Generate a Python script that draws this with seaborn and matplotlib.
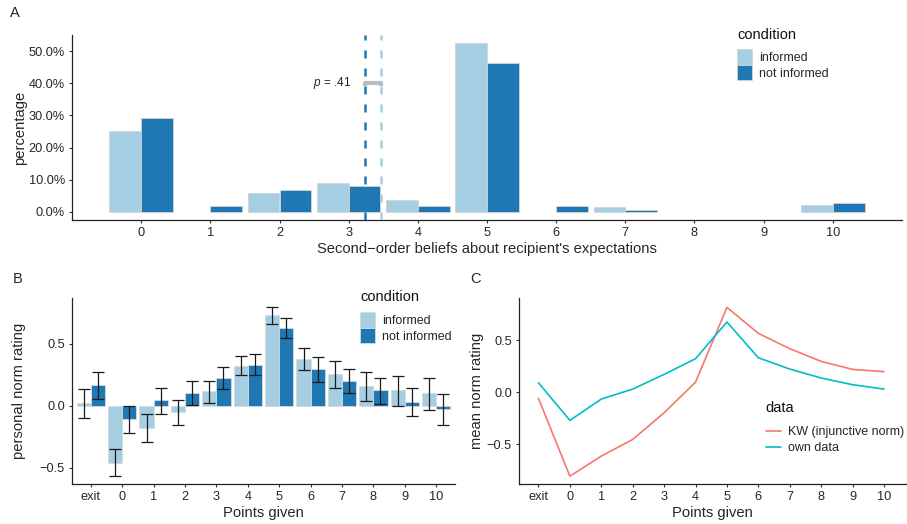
import numpy as np
import pandas as pd
import matplotlib
matplotlib.use("Agg")
import matplotlib.pyplot as plt
from matplotlib.ticker import PercentFormatter
import seaborn as sns

# ---------------- data ----------------
conditions = ["informed", "not informed"]
beliefs = list(range(11))
pct_informed = [25.3, 0, 5.9, 8.9, 3.7, 52.4, 0, 1.5, 0, 0, 2.1]
pct_not_informed = [29.2, 1.9, 6.8, 8.1, 1.9, 46.3, 1.9, 0.7, 0, 0, 2.8]
mean_belief_informed = 3.47
mean_belief_not_informed = 3.24
p_value_label = ".41"
p_bracket_height = 40.0

points_labels = ["exit", "0", "1", "2", "3", "4", "5", "6", "7", "8", "9", "10"]
norm_informed = [0.024, -0.457, -0.175, -0.051, 0.118, 0.323, 0.734, 0.376, 0.255, 0.159, 0.129, 0.102]
lo_informed = [-0.094, -0.562, -0.290, -0.153, 0.024, 0.247, 0.664, 0.290, 0.148, 0.043, 0.003, -0.032]
hi_informed = [0.140, -0.344, -0.067, 0.048, 0.204, 0.400, 0.796, 0.465, 0.363, 0.277, 0.245, 0.226]
norm_not_informed = [0.170, -0.108, 0.046, 0.105, 0.226, 0.333, 0.632, 0.298, 0.204, 0.126, 0.032, -0.027]
lo_not_informed = [0.054, -0.220, -0.065, 0.005, 0.134, 0.247, 0.551, 0.194, 0.102, 0.016, -0.081, -0.151]
hi_not_informed = [0.277, 0.003, 0.142, 0.204, 0.312, 0.417, 0.707, 0.398, 0.300, 0.228, 0.148, 0.097]

data_sources = ["KW (injunctive norm)", "own data"]
kw_norm = [-0.058, -0.805, -0.612, -0.452, -0.196, 0.099, 0.817, 0.567, 0.420, 0.298, 0.221, 0.199]
own_norm = [0.093, -0.269, -0.064, 0.032, 0.173, 0.324, 0.676, 0.333, 0.224, 0.138, 0.074, 0.032]

# ---------------- style ----------------
sns.set_theme(style="ticks")
plt.rcParams["font.family"] = ["Liberation Sans", "DejaVu Sans"]
plt.rcParams["mathtext.fontset"] = "custom"
plt.rcParams["mathtext.it"] = "Liberation Sans:italic"
plt.rcParams["mathtext.rm"] = "Liberation Sans"
plt.rcParams["axes.edgecolor"] = "#222222"
plt.rcParams["axes.linewidth"] = 0.9
plt.rcParams["xtick.color"] = "#333333"
plt.rcParams["ytick.color"] = "#333333"
plt.rcParams["xtick.labelcolor"] = "#262626"
plt.rcParams["ytick.labelcolor"] = "#262626"
plt.rcParams["xtick.major.size"] = 2.5
plt.rcParams["ytick.major.size"] = 2.5
plt.rcParams["xtick.major.width"] = 0.8
plt.rcParams["ytick.major.width"] = 0.8
plt.rcParams["xtick.major.pad"] = 2.5
plt.rcParams["ytick.major.pad"] = 2.5

blue_pal = {"informed": "#A6CEE3", "not informed": "#1F78B4"}
line_pal = {"KW (injunctive norm)": "#F8766D", "own data": "#00BFC4"}

W, H = 907, 524
fig = plt.figure(figsize=(W / 100, H / 100), dpi=100)

def frac_axes(l, t, r, b):
    return fig.add_axes([l / W, 1 - b / H, (r - l) / W, (b - t) / H])

axA = frac_axes(72, 35, 902, 220)
axB = frac_axes(72, 298, 455, 484)
axC = frac_axes(519, 298, 906, 484)

tick_fs = 9.2
lab_fs = 10.6
leg_fs = 9
legt_fs = 10.5


def patch_legend(ax, x_px, title_y_px, sw_top_px):
    h, l = ax.get_legend_handles_labels()
    fig.text(x_px / W, 1 - title_y_px / H, ax.get_legend().get_title().get_text()
             if ax.get_legend() is not None else "", fontsize=legt_fs,
             ha="left", va="center", color="#111111")
    ax.legend(h, l, loc="upper left", bbox_to_anchor=(x_px / W, 1 - sw_top_px / H),
              bbox_transform=fig.transFigure, frameon=False, borderpad=0,
              borderaxespad=0, handlelength=1.2, handleheight=1.55,
              handletextpad=0.55, labelspacing=0.0, fontsize=leg_fs)


# ---------------- panel A ----------------
dfA = pd.DataFrame({
    "belief": beliefs * 2,
    "condition": ["informed"] * len(beliefs) + ["not informed"] * len(beliefs),
    "pct": pct_informed + pct_not_informed,
})
dfA = dfA[dfA["pct"] > 0]
sns.barplot(data=dfA, x="belief", y="pct", hue="condition", order=beliefs,
            hue_order=conditions, palette=blue_pal, saturation=1, width=0.92,
            errorbar=None, edgecolor="#d4d4d4", linewidth=0.6, ax=axA)
axA.set_xlim(-1.0, 11.0)
axA.set_ylim(-2.5, 55)
axA.set_yticks([0, 10, 20, 30, 40, 50])
axA.yaxis.set_major_formatter(PercentFormatter(xmax=100, decimals=1))
axA.set_xlabel("Second\u2212order beliefs about recipient's expectations", fontsize=lab_fs, labelpad=2)
axA.set_ylabel("percentage", fontsize=lab_fs)
axA.yaxis.set_label_coords((27 - 72) / 830, 0.5)
axA.tick_params(labelsize=tick_fs)
dash = (0, (3.2, 4.0))
axA.axvline(mean_belief_not_informed, color=blue_pal["not informed"], lw=1.8, ls=dash, zorder=5)
axA.axvline(mean_belief_informed, color=blue_pal["informed"], lw=1.8, ls=dash, zorder=5)
axA.plot([mean_belief_not_informed, mean_belief_not_informed, mean_belief_informed, mean_belief_informed],
         [p_bracket_height - 1.0, p_bracket_height, p_bracket_height, p_bracket_height - 1.0],
         color="#BBBBBB", lw=3, solid_capstyle="butt", zorder=6)
axA.text(mean_belief_not_informed - 0.2, p_bracket_height, r"$p$ = " + p_value_label,
         ha="right", va="center", fontsize=8.5, color="#222222")
patch_legend(axA, 737, 35, 49)

# ---------------- panel B ----------------
dfB = pd.DataFrame({
    "points": points_labels * 2,
    "condition": ["informed"] * len(points_labels) + ["not informed"] * len(points_labels),
    "rating": norm_informed + norm_not_informed,
    "lo": lo_informed + lo_not_informed,
    "hi": hi_informed + hi_not_informed,
})
sns.barplot(data=dfB, x="points", y="rating", hue="condition", order=points_labels,
            hue_order=conditions, palette=blue_pal, saturation=1, width=0.9,
            errorbar=None, edgecolor="#dadada", linewidth=0.6, ax=axB)
for cont, cond in zip(axB.containers, conditions):
    sub = dfB[dfB["condition"] == cond].set_index("points").loc[points_labels]
    xs = [p.get_x() + p.get_width() / 2 for p in cont.patches]
    ys = sub["rating"].values
    yerr = np.vstack([ys - sub["lo"].values, sub["hi"].values - ys])
    axB.errorbar(xs, ys, yerr=yerr, fmt="none", ecolor="#1a1a1a", elinewidth=0.9,
                 capsize=4.3, capthick=0.9, zorder=5)
axB.set_xlim(-0.6, 11.6)
axB.set_ylim(-0.63, 0.87)
axB.set_yticks([-0.5, 0.0, 0.5])
axB.set_xlabel("Points given", fontsize=lab_fs, labelpad=2)
axB.set_ylabel("personal norm rating", fontsize=lab_fs)
axB.yaxis.set_label_coords((26 - 72) / 383, 0.5)
axB.tick_params(labelsize=tick_fs)
patch_legend(axB, 360, 297, 312)

# ---------------- panel C ----------------
pos_map = {lab: i for i, lab in enumerate(points_labels)}
dfC = pd.DataFrame({
    "points": points_labels * 2,
    "data": [data_sources[0]] * len(points_labels) + [data_sources[1]] * len(points_labels),
    "rating": kw_norm + own_norm,
})
dfC["pos"] = dfC["points"].map(pos_map)
sns.lineplot(data=dfC, x="pos", y="rating", hue="data", hue_order=data_sources,
             palette=line_pal, linewidth=1.2, ax=axC)
axC.set_xticks(range(len(points_labels)))
axC.set_xticklabels(points_labels)
axC.set_xlim(-0.62, 11.7)
axC.set_ylim(-0.88, 0.907)
axC.set_yticks([-0.5, 0.0, 0.5])
axC.set_xlabel("Points given", fontsize=lab_fs, labelpad=2)
axC.set_ylabel("mean norm rating", fontsize=lab_fs)
axC.yaxis.set_label_coords((484 - 519) / 387, 0.5)
axC.tick_params(labelsize=tick_fs)
hC, lC = axC.get_legend_handles_labels()
fig.text(765 / W, 1 - 408 / H, "data", fontsize=legt_fs, ha="left", va="center", color="#111111")
axC.legend(hC, lC, loc="upper left", bbox_to_anchor=(766 / W, 1 - 426 / H),
           bbox_transform=fig.transFigure, frameon=False, borderpad=0,
           borderaxespad=0, handlelength=1.2, handletextpad=0.55,
           labelspacing=0.32, fontsize=leg_fs)

for ax in (axA, axB, axC):
    sns.despine(ax=ax)

fig.text(10 / W, 1 - 13 / H, "A", fontsize=10.5, va="center", ha="left")
fig.text(13 / W, 1 - 279 / H, "B", fontsize=10.5, va="center", ha="left")
fig.text(470 / W, 1 - 279 / H, "C", fontsize=10.5, va="center", ha="left")

fig.savefig("out.png", dpi=100)
